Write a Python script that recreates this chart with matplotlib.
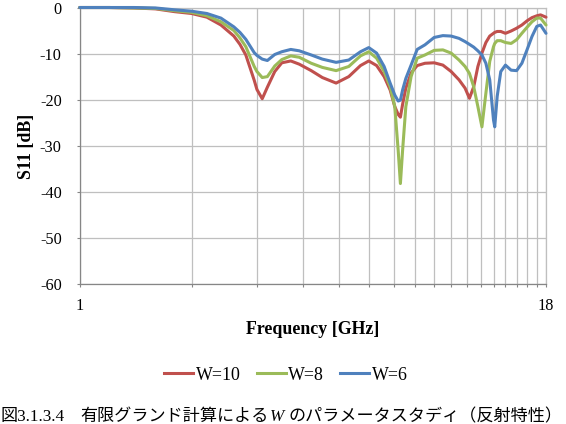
import matplotlib
matplotlib.use("Agg")
import matplotlib.pyplot as plt
from matplotlib.lines import Line2D

plt.rcParams['font.family'] = ['Liberation Serif', 'Noto Sans CJK JP']

# ---- data ----
freq = [1.0, 1.2, 1.4, 1.6, 1.8, 2.0, 2.2, 2.4, 2.6, 2.7, 2.8, 2.95, 3.0, 3.1, 3.2, 3.35, 3.5,
        3.7, 3.9, 4.2, 4.5, 4.9, 5.3, 5.7, 6.0, 6.3, 6.6, 6.85, 7.05, 7.2, 7.3, 7.4,
        7.55, 7.8, 8.1, 8.5, 9.0, 9.5, 10.0, 10.5, 10.9, 11.2, 11.5, 11.8, 12.1, 12.4,
        12.7, 13.0, 13.1, 13.3, 13.6, 14.0, 14.5, 15.0, 15.5, 16.0, 16.5, 17.0, 17.4, 18.0]

s11_w10 = [0, 0, -0.1, -0.3, -0.9,
           -1.3, -2.1, -3.8, -6.2, -8.0, -10.3,
           -15.8, -17.8, -19.8, -17.3, -13.9, -12.0,
           -11.6, -12.3, -13.7, -15.2, -16.4,
           -15.0, -12.6, -11.6, -12.6, -15.0,
           -17.9, -21.5, -23.2, -23.8, -21.0,
           -17.5, -14.2, -12.6, -12.1, -12.0,
           -12.5, -13.9, -15.7, -17.5, -19.7,
           -17.2, -12.8, -9.9, -7.6, -6.2,
           -5.6, -5.4, -5.2, -5.2, -5.6,
           -5.1, -4.5, -3.8, -2.9, -2.2,
           -1.8, -1.6, -2.1]

s11_w8 = [0, 0, -0.1, -0.2, -0.7,
          -1.05, -1.8, -3.1, -5.0, -6.6, -8.5,
          -12.8, -13.9, -15.2, -15.0, -12.7, -11.3,
          -10.5, -10.8, -12.1, -13.0, -13.7,
          -12.8, -10.5, -9.6, -11.0, -13.9,
          -17.2, -21.5, -31.0, -38.2, -31.0,
          -21.5, -15.0, -11.0, -10.3, -9.3,
          -9.2, -9.9, -11.4, -12.8, -14.3,
          -17.2, -21.5, -25.9, -18.6, -11.7,
          -8.5, -7.8, -7.2, -7.2, -7.6,
          -7.8, -7.0, -5.6, -4.3, -3.1,
          -2.3, -2.3, -3.8]

s11_w6 = [0, 0, 0, -0.1, -0.5,
          -0.8, -1.3, -2.3, -4.2, -5.4, -6.9,
          -9.8, -10.4, -11.2, -11.5, -10.2, -9.6,
          -9.1, -9.4, -10.3, -11.2, -11.9,
          -11.4, -9.6, -8.7, -9.9, -12.8,
          -16.4, -19.0, -20.3, -20.1, -17.9,
          -15.4, -12.5, -9.1, -8.1, -6.5,
          -6.1, -6.2, -6.7, -7.4, -8.0,
          -8.6, -9.4, -10.3, -12.1, -15.7,
          -24.4, -25.9, -19.3, -13.9, -12.5,
          -13.6, -13.7, -12.1, -9.2, -6.3,
          -4.1, -3.8, -5.6]

series_labels = ['W=10', 'W=8', 'W=6']
series_colors = ['#C0504D', '#9BBB59', '#4F81BD']
x_tick_values = list(range(1, 19))
x_tick_labels = ['1'] + [''] * 16 + ['18']
y_tick_values = list(range(-60, 1, 10))

W, H = 566, 424
fig = plt.figure(figsize=(W / 100, H / 100), dpi=100)
ax = fig.add_axes([79.7 / W, 1 - 284 / H, (546 - 79.7) / W, (284 - 7.5) / H])

for vals, lab, col in zip([s11_w10, s11_w8, s11_w6], series_labels, series_colors):
    ax.plot(freq, vals, color=col, lw=2.2, label=lab, solid_joinstyle='round',
            solid_capstyle='round', clip_on=False, zorder=3)

ax.set_xscale('log')
ax.set_xlim(1, 18)
ax.set_ylim(-60, 0)
ax.set_xticks(x_tick_values)
ax.set_xticklabels(x_tick_labels)
ax.xaxis.set_minor_locator(matplotlib.ticker.NullLocator())
ax.set_yticks(y_tick_values)
ax.set_yticklabels([str(v) for v in y_tick_values])

ax.grid(True, color='#BFBFBF', lw=0.9, zorder=0)
ax.set_axisbelow(True)
for side in ['top', 'right']:
    ax.spines[side].set_color('#BFBFBF')
    ax.spines[side].set_linewidth(0.9)
for side in ['left', 'bottom']:
    ax.spines[side].set_color('#868686')
    ax.spines[side].set_linewidth(0.9)

ax.tick_params(axis='both', direction='out', length=2.5, width=0.8, color='#868686',
               labelsize=11.7, labelcolor='black')
ax.tick_params(axis='x', pad=7.5)
ax.tick_params(axis='y', pad=10.5)

fig.text(313 / W, 1 - 330 / H, 'Frequency [GHz]', ha='center', va='center',
         fontsize=12.9, fontweight='bold')
fig.text(27 / W, 1 - 146 / H, 'S11 [dB]', ha='center', va='center', rotation=90,
         fontsize=12.9, fontweight='bold')

handles = [Line2D([], [], color=c, lw=2.2) for c in series_colors]
fig.legend(handles, series_labels, loc='center', bbox_to_anchor=(286 / W, 1 - 375 / H),
           ncol=3, frameon=False, fontsize=12.9, handlelength=1.62, handletextpad=0.15,
           columnspacing=0.9)

cap_y = 1 - 421 / H
cap_fs = 12.3
fig.text(1 / W, cap_y, '図3.1.3.4', ha='left', va='baseline', fontsize=cap_fs)
fig.text(80 / W, cap_y, '有限グランド計算による', ha='left', va='baseline', fontsize=cap_fs)
fig.text(270 / W, cap_y, 'W', ha='left', va='baseline', fontsize=cap_fs, fontstyle='italic')
fig.text(288 / W, cap_y, 'のパラメータスタディ（反射特性）', ha='left', va='baseline', fontsize=cap_fs)

fig.savefig('out.png', dpi=100)
